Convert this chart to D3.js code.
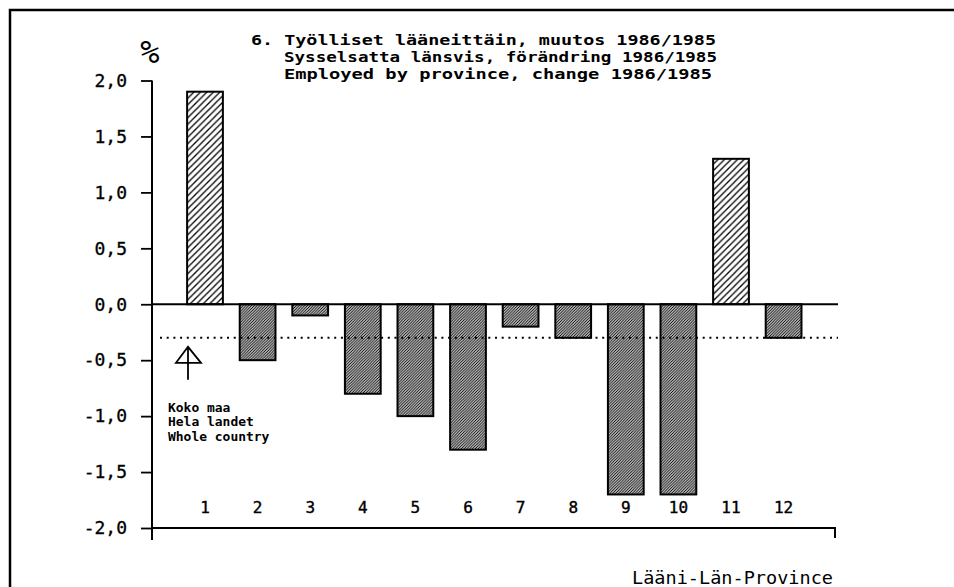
<!DOCTYPE html>
<html>
<head>
<meta charset="utf-8">
<script src="https://cdn.jsdelivr.net/npm/d3@7"></script>
<style>
  html, body { margin: 0; padding: 0; background: #fff; }
  svg { display: block; }
</style>
</head>
<body>
<svg id="chart" width="954" height="587"></svg>
<script>
// ---- data ----
const provinces = ["1","2","3","4","5","6","7","8","9","10","11","12"];
const changes = [1.9, -0.5, -0.1, -0.8, -1.0, -1.3, -0.2, -0.3, -1.7, -1.7, 1.3, -0.3];
const wholeCountry = -0.3;
const yTicks = [2.0, 1.5, 1.0, 0.5, 0.0, -0.5, -1.0, -1.5, -2.0];
const titleLines = [
  "6. Työlliset lääneittäin, muutos 1986/1985",
  "Sysselsatta länsvis, förändring 1986/1985",
  "Employed by province, change 1986/1985"
];
const legendLines = ["Koko maa", "Hela landet", "Whole country"];
const xTitle = "Lääni-Län-Province";
const yUnit = "%";

// ---- drawing ----
const svg = d3.select("#chart");
const mono = "'DejaVu Sans Mono', 'Liberation Mono', monospace";

const y = d3.scaleLinear().domain([-2, 2]).range([528, 80.5]);
const x = d3.scaleBand().domain(provinces).range([178.7, 809.9])
  .paddingInner(0.32).paddingOuter(0.16);
const axisX = 152, axisRight = 835;

// patterns
const defs = svg.append("defs");
function hatch(id, size, sw) {
  const p = defs.append("pattern").attr("id", id)
    .attr("patternUnits", "userSpaceOnUse")
    .attr("width", size).attr("height", size);
  p.append("path")
    .attr("d", `M${-size/4},${size/4} L${size/4},${-size/4} M0,${size} L${size},0 M${size*3/4},${size*5/4} L${size*5/4},${size*3/4}`)
    .attr("stroke", "#000").attr("stroke-width", sw);
}
hatch("hPos", 6.5, 1.3);
hatch("hNeg", 2.8, 1.1);

// frame (only top & left visible)
svg.append("path").attr("d", "M10,590 L10,10 L960,10")
  .attr("fill", "none").attr("stroke", "#000").attr("stroke-width", 2.5);

// y axis
const yAxis = d3.axisLeft(y).tickValues(yTicks).tickSize(11).tickSizeOuter(0)
  .tickPadding(14).tickFormat(d => d3.format(".1f")(d).replace(".", ",").replace("−", "-"));
const gy = svg.append("g").attr("transform", `translate(${axisX},0)`).call(yAxis);
gy.select(".domain").remove();
gy.selectAll(".tick line").attr("stroke", "#000").attr("stroke-width", 1.8);
gy.selectAll(".tick text").attr("font-family", mono).attr("font-size", 18)
  .attr("fill", "#000").attr("stroke", "#000").attr("stroke-width", 0.3);

svg.append("line").attr("x1", axisX).attr("x2", axisX)
  .attr("y1", y(2)).attr("y2", 540).attr("stroke", "#000").attr("stroke-width", 2);

// bottom axis
svg.append("path")
  .attr("d", `M${axisX},${y(-2)} L${axisRight},${y(-2)} L${axisRight},538`)
  .attr("fill", "none").attr("stroke", "#000").attr("stroke-width", 2);

// bars
svg.append("g").selectAll("rect").data(provinces).join("rect")
  .attr("x", d => x(d))
  .attr("width", x.bandwidth())
  .attr("y", (d, i) => y(Math.max(0, changes[i])))
  .attr("height", (d, i) => Math.abs(y(changes[i]) - y(0)))
  .attr("fill", (d, i) => changes[i] >= 0 ? "url(#hPos)" : "url(#hNeg)")
  .attr("stroke", "#000").attr("stroke-width", 2);

// zero line
svg.append("line").attr("x1", axisX).attr("x2", 838)
  .attr("y1", y(0)).attr("y2", y(0)).attr("stroke", "#000").attr("stroke-width", 2.2);

// whole country dotted line
svg.append("line").attr("x1", 160).attr("x2", 838)
  .attr("y1", y(wholeCountry)).attr("y2", y(wholeCountry))
  .attr("stroke", "#000").attr("stroke-width", 2).attr("stroke-dasharray", "2,4.7");

// category labels
svg.append("g").selectAll("text").data(provinces).join("text")
  .attr("x", d => x(d) + x.bandwidth() / 2)
  .attr("y", 513)
  .attr("text-anchor", "middle")
  .attr("font-family", mono).attr("font-size", 16)
  .attr("fill", "#000").attr("stroke", "#000").attr("stroke-width", 0.4)
  .text(d => d);

// arrow marker
const ay = y(wholeCountry);
svg.append("path")
  .attr("d", `M188,${ay + 9} L176,${ay + 25} L201,${ay + 25} Z M188,${ay + 9} L188,${ay + 42}`)
  .attr("fill", "none").attr("stroke", "#000").attr("stroke-width", 1.8);

// legend text (one block)
svg.append("text")
  .attr("font-family", mono).attr("font-weight", "bold").attr("font-size", 12.5)
  .attr("fill", "#000")
  .selectAll("tspan").data(legendLines).join("tspan")
  .attr("x", 168).attr("y", (d, i) => 411.7 + i * 14.6)
  .attr("textLength", d => d.length * 7.8).attr("lengthAdjust", "spacingAndGlyphs")
  .text(d => d);

// unit
svg.append("text").attr("x", 150).attr("y", 63).attr("text-anchor", "middle")
  .attr("font-family", mono).attr("font-size", 32).attr("fill", "#000")
  .text(yUnit);

// title (one block)
const tPos = [[251, 44.5, 465], [284, 61.5, 433], [284, 78.5, 428]];
svg.append("text")
  .attr("font-family", mono).attr("font-weight", "bold").attr("font-size", 14.5)
  .attr("fill", "#000")
  .selectAll("tspan").data(titleLines).join("tspan")
  .attr("x", (d, i) => tPos[i][0]).attr("y", (d, i) => tPos[i][1])
  .attr("textLength", (d, i) => tPos[i][2]).attr("lengthAdjust", "spacingAndGlyphs")
  .text(d => d);

// x title
svg.append("text").attr("x", 833).attr("y", 584).attr("text-anchor", "end")
  .attr("textLength", 201).attr("lengthAdjust", "spacingAndGlyphs")
  .attr("font-family", mono).attr("font-size", 18).attr("fill", "#000")
  .text(xTitle);
</script>
</body>
</html>
